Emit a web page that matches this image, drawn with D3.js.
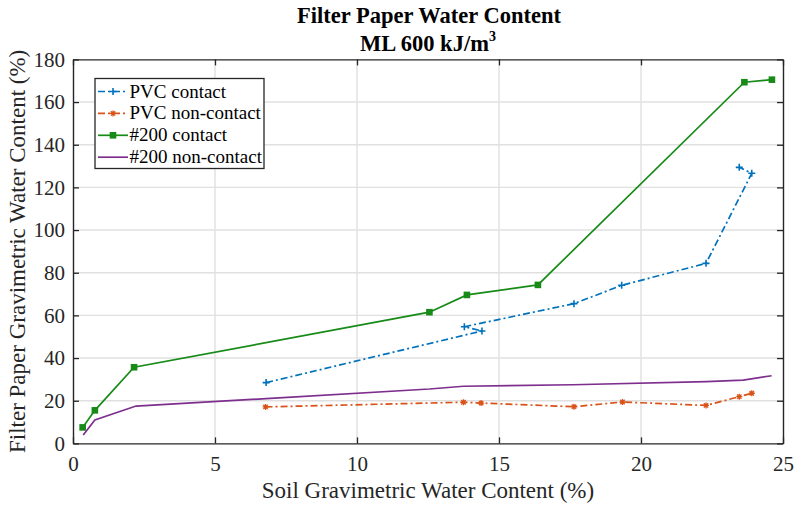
<!DOCTYPE html>
<html><head><meta charset="utf-8">
<script src="https://cdn.jsdelivr.net/npm/d3@7"></script>
<style>body{margin:0;background:#fff}svg{display:block}text{font-family:"Liberation Serif","Times New Roman",serif}</style>
</head><body><svg id="c" width="794" height="505"></svg>
<script>
const xTicks = [0,5,10,15,20,25];
const yTicks = [0,20,40,60,80,100,120,140,160,180];
const pvcContactX = [6.8, 14.4, 13.78, 17.64, 19.32, 22.29, 23.9, 23.46];
const pvcContactY = [28.5, 52.7, 54.7, 65.5, 74.1, 84.4, 126.6, 129.4];
const pvcNonX = [6.78, 13.75, 14.37, 17.64, 19.35, 22.29, 23.46, 23.9];
const pvcNonY = [17.1, 19.3, 18.9, 17.2, 19.4, 17.8, 21.9, 23.5];
const c200X = [0.34, 0.77, 2.15, 12.55, 13.87, 16.37, 23.64, 24.61];
const c200Y = [7.5, 15.5, 35.7, 61.5, 69.6, 74.3, 169.3, 170.5];
const n200X = [0.36, 0.77, 2.22, 6.8, 12.55, 13.75, 17.6, 22.3, 23.6, 24.6];
const n200Y = [3.9, 11.0, 17.5, 21.0, 25.5, 26.8, 27.5, 29.0, 29.7, 31.7];
const seriesNames = ["PVC contact","PVC non-contact","#200 contact","#200 non-contact"];
const colors = ["#0072BD","#D95319","#178A17","#7E2F8E"];

const svg = d3.select("#c");
const L=73, R=783, T=59.4, B=443.4;
const x = d3.scaleLinear().domain([0,25]).range([L,R]);
const y = d3.scaleLinear().domain([0,180]).range([B,T]);

// grid
svg.append("g").selectAll("line").data(xTicks.slice(1,-1)).join("line")
  .attr("x1",d=>x(d)).attr("x2",d=>x(d)).attr("y1",T).attr("y2",B)
  .attr("stroke","#e0e0e0").attr("stroke-width",1.4);
svg.append("g").selectAll("line").data(yTicks.slice(1,-1)).join("line")
  .attr("y1",d=>y(d)).attr("y2",d=>y(d)).attr("x1",L).attr("x2",R)
  .attr("stroke","#e0e0e0").attr("stroke-width",1.4);

// axes
const axCol="#262626";
const gx = svg.append("g").attr("transform",`translate(0,${B})`)
  .call(d3.axisBottom(x).tickValues(xTicks).tickSizeInner(-6).tickSizeOuter(0).tickPadding(13));
const gxt = svg.append("g").attr("transform",`translate(0,${T})`)
  .call(d3.axisTop(x).tickValues(xTicks).tickSizeInner(-6).tickSizeOuter(0).tickFormat(""));
const gy = svg.append("g").attr("transform",`translate(${L},0)`)
  .call(d3.axisLeft(y).tickValues(yTicks).tickSizeInner(-6).tickSizeOuter(0).tickPadding(8));
const gyr = svg.append("g").attr("transform",`translate(${R},0)`)
  .call(d3.axisRight(y).tickValues(yTicks).tickSizeInner(-6).tickSizeOuter(0).tickFormat(""));
[gx,gxt,gy,gyr].forEach(g=>{
  g.selectAll("path").attr("stroke",axCol).attr("stroke-width",1.4);
  g.selectAll("line").attr("stroke",axCol).attr("stroke-width",1.3);
  g.selectAll("text").attr("fill","#262626").style("font-size","21px").style("font-family","Liberation Serif");
});

// series
const line = d3.line().x(d=>x(d[0])).y(d=>y(d[1]));
const zip=(a,b)=>a.map((v,i)=>[v,b[i]]);
const series = [
  {d:zip(pvcContactX,pvcContactY), dash:"7,3,2,3", marker:"plus"},
  {d:zip(pvcNonX,pvcNonY), dash:"7,3,2,3", marker:"star"},
  {d:zip(c200X,c200Y), dash:null, marker:"square"},
  {d:zip(n200X,n200Y), dash:null, marker:null}
];
function drawMarker(g,type,px,py,col){
  if(type==="plus"){
    g.append("path").attr("d",`M${px-3.5},${py}H${px+3.5}M${px},${py-3.5}V${py+3.5}`).attr("stroke",col).attr("stroke-width",1.6);
  } else if(type==="star"){
    g.append("path").attr("d",`M${px-3},${py}H${px+3}M${px},${py-3}V${py+3}M${px-2.2},${py-2.2}L${px+2.2},${py+2.2}M${px-2.2},${py+2.2}L${px+2.2},${py-2.2}`).attr("stroke",col).attr("stroke-width",1.3);
  } else if(type==="square"){
    g.append("rect").attr("x",px-3.3).attr("y",py-3.3).attr("width",6.6).attr("height",6.6).attr("fill",col);
  }
}
series.forEach((s,i)=>{
  const g=svg.append("g");
  g.append("path").datum(s.d).attr("d",line).attr("fill","none")
    .attr("stroke",colors[i]).attr("stroke-width",1.7)
    .attr("stroke-dasharray",s.dash);
  if(s.marker) s.d.forEach(p=>drawMarker(g,s.marker,x(p[0]),y(p[1]),colors[i]));
});

// legend
const lg = svg.append("g");
lg.append("rect").attr("x",95).attr("y",78.5).attr("width",169).attr("height",90)
  .attr("fill","#fff").attr("stroke","#262626").attr("stroke-width",1.3);
seriesNames.forEach((n,i)=>{
  const yy = 91.5 + i*21.9;
  lg.append("line").attr("x1",98).attr("x2",128).attr("y1",yy).attr("y2",yy)
    .attr("stroke",colors[i]).attr("stroke-width",1.7).attr("stroke-dasharray",series[i].dash);
  if(series[i].marker) drawMarker(lg,series[i].marker,113,yy,colors[i]);
  lg.append("text").attr("x",129.5).attr("y",yy+6).text(n).style("font-size","19px").attr("fill","#000");
});

// titles
svg.append("text").attr("x",429).attr("y",23).attr("text-anchor","middle")
  .style("font-size","22.5px").style("font-weight","bold").text("Filter Paper Water Content");
const t2 = svg.append("text").attr("x",428).attr("y",51).attr("text-anchor","middle")
  .style("font-size","22.5px").style("font-weight","bold");
t2.append("tspan").text("ML 600 kJ/m");
t2.append("tspan").attr("dy",-10).style("font-size","14px").text("3");
svg.append("text").attr("x",428).attr("y",498).attr("text-anchor","middle")
  .style("font-size","23px").attr("fill","#262626").text("Soil Gravimetric Water Content (%)");
svg.append("text").attr("transform",`translate(25,${(T+B)/2}) rotate(-90)`).attr("text-anchor","middle")
  .style("font-size","23px").attr("fill","#262626").text("Filter Paper Gravimetric Water Content (%)");
</script></body></html>
